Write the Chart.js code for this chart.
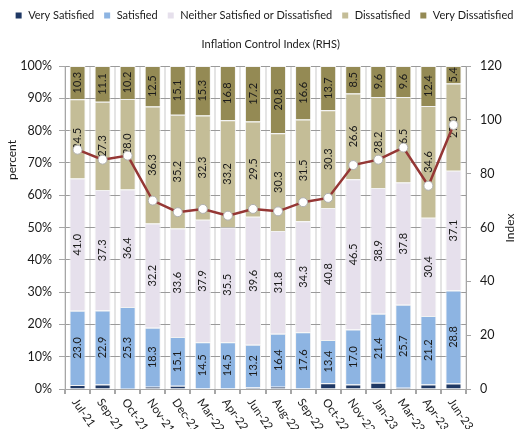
<!DOCTYPE html>
<html>
<head>
<meta charset="utf-8">
<script src="https://cdn.jsdelivr.net/npm/chart.js@4/dist/chart.umd.min.js"></script>
<style>
  html, body { margin: 0; padding: 0; background: #fff; }
  #wrap { width: 521px; height: 429px; position: relative; }
</style>
</head>
<body>
<div id="wrap"><canvas id="satChart"></canvas></div>
<script>
const categories = ['Jul-21', 'Sep-21', 'Oct-21', 'Nov-21', 'Dec-21', 'Mar-22', 'Apr-22', 'Jun-22',
                    'Aug-22', 'Sep-22', 'Oct-22', 'Nov-22', 'Jan-23', 'Mar-23', 'Apr-23', 'Jun-23'];
const verySatisfied    = [1.2, 1.4, 0.1, 0.7, 1.0, 0.0, 0.0, 0.5, 0.7, 0.0, 1.8, 1.4, 1.9, 0.4, 1.4, 1.7];
const satisfied        = [23.0, 22.9, 25.3, 18.3, 15.1, 14.5, 14.5, 13.2, 16.4, 17.6, 13.4, 17.0, 21.4, 25.7, 21.2, 28.8];
const neither          = [41.0, 37.3, 36.4, 32.2, 33.6, 37.9, 35.5, 39.6, 31.8, 34.3, 40.8, 46.5, 38.9, 37.8, 30.4, 37.1];
const dissatisfied     = [24.5, 27.3, 28.0, 36.3, 35.2, 32.3, 33.2, 29.5, 30.3, 31.5, 30.3, 26.6, 28.2, 26.5, 34.6, 27.0];
const veryDissatisfied = [10.3, 11.1, 10.2, 12.5, 15.1, 15.3, 16.8, 17.2, 20.8, 16.6, 13.7, 8.5, 9.6, 9.6, 12.4, 5.4];
const inflationIndex   = [88.9, 85.2, 86.7, 70.0, 65.7, 66.9, 64.4, 66.9, 66.0, 69.4, 71.0, 83.2, 85.2, 89.7, 75.5, 98.1];

const FONT = 'Lato';
const TEXT = '#1a1a1a';
const AXIS = '#a6a6a6';

function barSet(label, data, color) {
    return {
        type: 'bar',
        label: label,
        data: data,
        backgroundColor: color,
        borderColor: '#f2f2f2',
        borderWidth: 1,
        yAxisID: 'y',
        stack: 's',
        order: 1,
        barPercentage: 0.64,
        categoryPercentage: 1
    };
}

// segment values, legend squares, rotated axis text
const labelPlugin = {
    id: 'labelPlugin',
    beforeInit(chart) {
        const fit = chart.legend.fit;
        chart.legend.fit = function() {
            fit.bind(chart.legend)();
            this.height = 66;
        };
    },
    afterDatasetDraw(chart, args) {
        const ds = chart.data.datasets[args.index];
        if (ds.type !== 'bar' || args.index === 0) return;
        const ctx = chart.ctx;
        ctx.save();
        ctx.font = '11px ' + FONT;
        ctx.fillStyle = TEXT;
        ctx.textAlign = 'center';
        ctx.textBaseline = 'middle';
        args.meta.data.forEach((bar, i) => {
            const cy = (bar.y + bar.base) / 2;
            ctx.save();
            ctx.translate(bar.x, cy);
            ctx.rotate(-Math.PI / 2);
            ctx.fillText(ds.data[i].toFixed(1), 0, 0);
            ctx.restore();
        });
        ctx.restore();
    },
    afterDraw(chart) {
        const ctx = chart.ctx;
        const xs = chart.scales.x;
        ctx.save();

        const lg = chart.legend;
        lg.legendItems.forEach((item, i) => {
            const ds = chart.data.datasets[item.datasetIndex];
            const hb = lg.legendHitBoxes[i];
            if (ds.type !== 'bar' || !hb) return;
            ctx.fillStyle = ds.backgroundColor;
            ctx.fillRect(hb.left + 8, hb.top + hb.height / 2 - 3, 6, 6);
        });

        ctx.font = '11.5px ' + FONT;
        ctx.fillStyle = TEXT;
        ctx.textAlign = 'left';
        ctx.textBaseline = 'middle';
        categories.forEach((c, i) => {
            const x = xs.getPixelForValue(i);
            ctx.save();
            ctx.translate(x - 3, xs.top + 11);
            ctx.rotate(55 * Math.PI / 180);
            ctx.fillText(c, 0, 0);
            ctx.restore();
        });
        ctx.font = '12px ' + FONT;
        ctx.textAlign = 'center';
        ctx.save();
        ctx.translate(12, 160);
        ctx.rotate(-Math.PI / 2);
        ctx.fillText('percent', 0, 0);
        ctx.restore();
        ctx.save();
        ctx.translate(510, 228);
        ctx.rotate(-Math.PI / 2);
        ctx.fillText('Index', 0, 0);
        ctx.restore();
        ctx.restore();
    }
};

const ctx = document.getElementById('satChart').getContext('2d');
new Chart(ctx, {
    data: {
        labels: categories,
        datasets: [
            barSet('Very Satisfied', verySatisfied, '#1f3864'),
            barSet('Satisfied', satisfied, '#8db4e2'),
            barSet('Neither Satisfied or Dissatisfied', neither, '#e6e0ec'),
            barSet('Dissatisfied', dissatisfied, '#c4bd97'),
            barSet('Very Dissatisfied', veryDissatisfied, '#948a54'),
            {
                type: 'line',
                label: 'Inflation Control Index (RHS)',
                data: inflationIndex,
                yAxisID: 'y1',
                order: 0,
                borderColor: '#953735',
                borderWidth: 2.5,
                pointRadius: 4.5,
                pointBackgroundColor: '#ffffff',
                pointBorderColor: '#b0b0b0',
                pointBorderWidth: 1
            }
        ]
    },
    options: {
        responsive: true,
        maintainAspectRatio: false,
        animation: false,
        layout: { padding: 0 },
        scales: {
            x: {
                stacked: true,
                offset: true,
                afterFit: (s) => { s.height = 40; },
                border: { color: AXIS },
                grid: { color: '#e4e4e4', lineWidth: 2, tickColor: AXIS, tickLength: 5, offset: true },
                ticks: { color: 'transparent', autoSkip: false, maxRotation: 0, font: { family: FONT, size: 11 } }
            },
            y: {
                stacked: true,
                position: 'left',
                min: 0,
                max: 100,
                afterFit: (s) => { s.width = 65; },
                border: { color: AXIS },
                grid: { color: '#9a9a9a', tickColor: AXIS, tickLength: 6 },
                ticks: {
                    stepSize: 10,
                    padding: 7,
                    color: TEXT,
                    font: { family: FONT, size: 12.5 },
                    callback: (v) => v + '%'
                }
            },
            y1: {
                position: 'right',
                min: 0,
                max: 120,
                afterFit: (s) => { s.width = 55; },
                border: { color: AXIS },
                grid: { drawOnChartArea: false, tickColor: AXIS, tickLength: 5 },
                ticks: { stepSize: 20, padding: 9, color: TEXT, font: { family: FONT, size: 12.5 } }
            }
        },
        plugins: {
            tooltip: { enabled: false },
            legend: {
                position: 'top',
                labels: {
                    boxWidth: 15,
                    boxHeight: 27,
                    padding: 2,
                    color: TEXT,
                    font: { family: FONT, size: 11 },
                    sort: (a, b) => a.datasetIndex - b.datasetIndex,
                    generateLabels: (chart) => {
                        const items = Chart.defaults.plugins.legend.labels.generateLabels(chart);
                        items.forEach((it) => {
                            it.lineWidth = 0;
                            it.fillStyle = 'transparent';
                            it.strokeStyle = 'transparent';
                        });
                        return items;
                    }
                }
            }
        }
    },
    plugins: [labelPlugin]
});
</script>
</body>
</html>
